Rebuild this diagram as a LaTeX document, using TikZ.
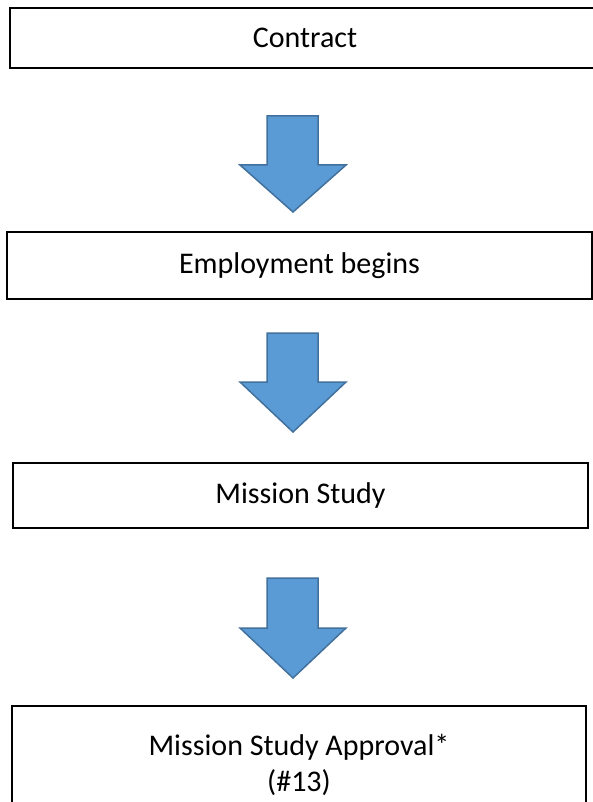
\documentclass[tikz,border=0pt]{standalone}
\usepackage{fontspec}
\setmainfont{Carlito}
\definecolor{arrowfill}{HTML}{5B9BD5}
\definecolor{arrowline}{HTML}{41719C}
\begin{document}
\begin{tikzpicture}[x=1pt,y=-1pt,
  box/.style={draw=black,line width=1.6pt,fill=white,inner sep=0pt,align=center,
    font=\fontsize{30}{36}\selectfont},
  blockarrow/.style={draw=arrowline,fill=arrowfill,line width=1.5pt,line join=miter}]
\useasboundingbox (0,0) rectangle (593,802);
\clip (0,0) rectangle (593,802);
\fill[white] (0,0) rectangle (593,802);
\node[box,minimum width=590pt,minimum height=60pt] (contract) at (305,38) {Contract};
\node[box,minimum width=585pt,minimum height=67pt] (employ) at (299.5,265.5) {Employment begins};
\node[box,minimum width=575pt,minimum height=65pt] (study) at (300.5,495.5) {Mission Study};
\node[box,minimum width=574pt,minimum height=118pt] (approval) at (299,765) {Mission Study Approval*\\(\#13)};
% block arrows
\draw[blockarrow] (267,116) -- (318,116) -- (318,165) -- (346,165) -- (293,212) -- (240,165) -- (267,165) -- cycle;
\draw[blockarrow] (267,333) -- (318,333) -- (318,382) -- (346,382) -- (293,432) -- (240,382) -- (267,382) -- cycle;
\draw[blockarrow] (267,578) -- (318,578) -- (318,628) -- (346,628) -- (293,678) -- (240,628) -- (267,628) -- cycle;
\end{tikzpicture}
\end{document}
